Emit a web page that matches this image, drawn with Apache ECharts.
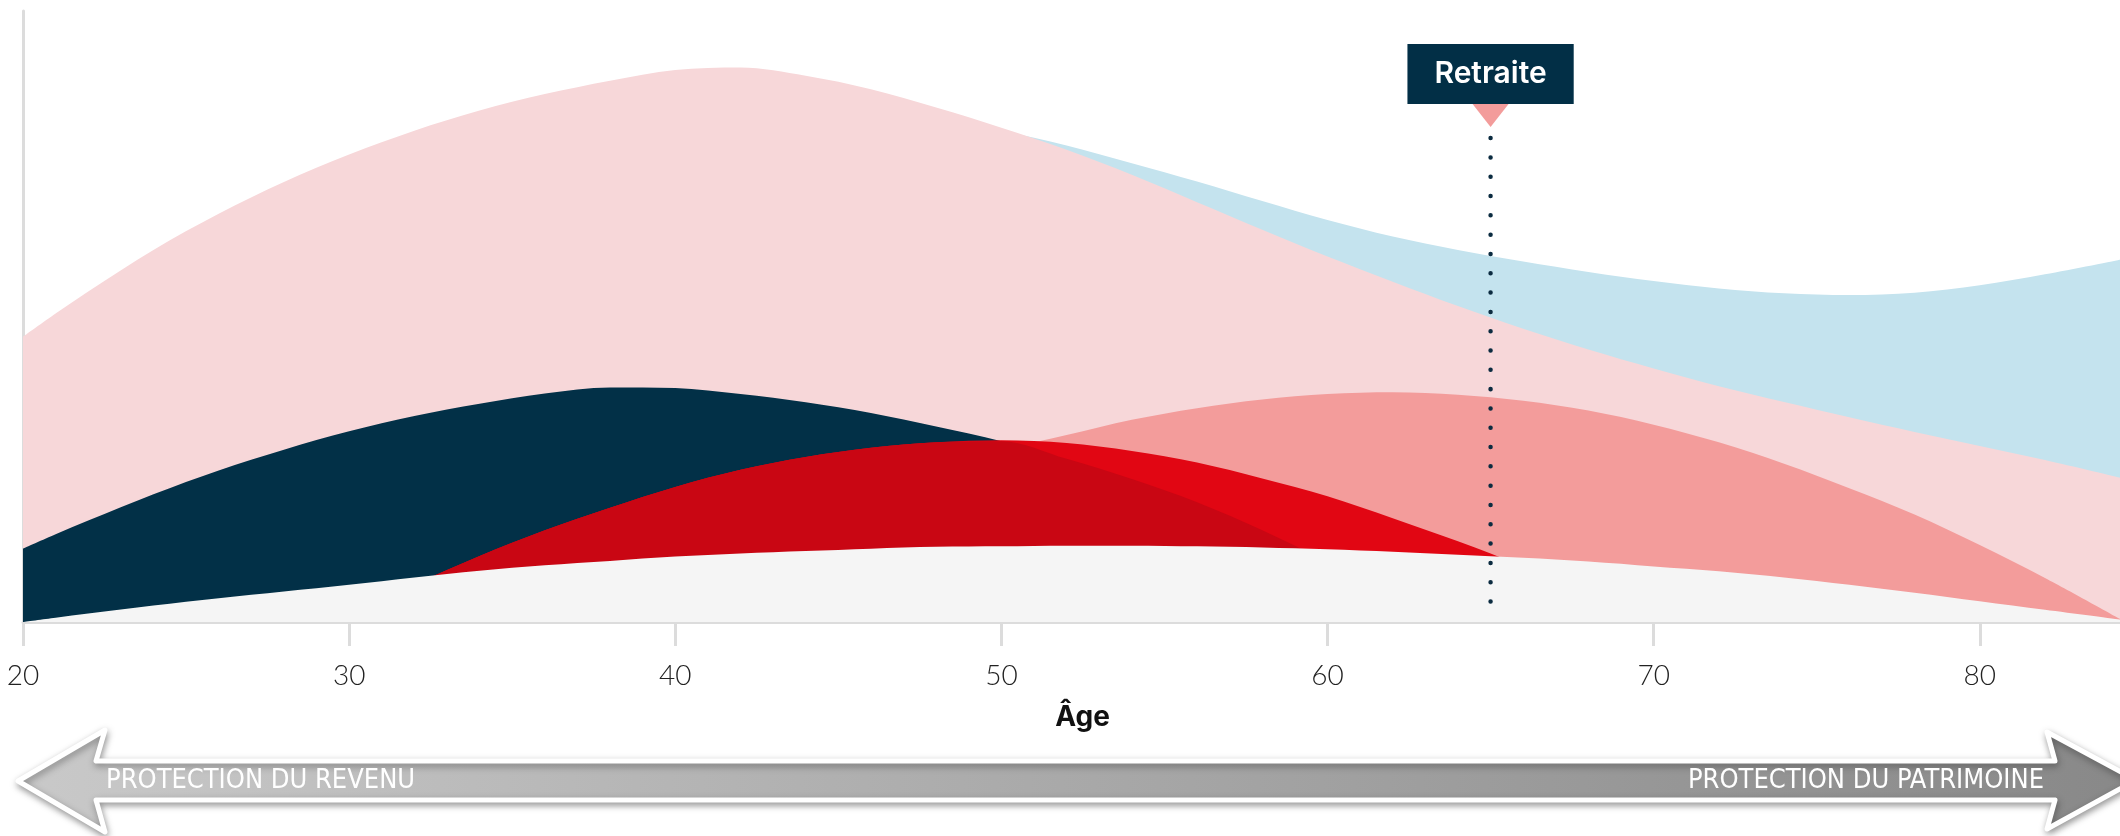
<!DOCTYPE html>
<html>
<head>
<meta charset="utf-8">
<script src="https://cdn.jsdelivr.net/npm/echarts@6/dist/echarts.min.js"></script>
<style>
html,body{margin:0;padding:0;background:#fff;}
#chart{width:2120px;height:836px;}
</style>
</head>
<body>
<div id="chart"></div>
<script>
// ---- data ----
const ages = [20,21,22,24,26,28,30,32,34,36,38,40,42,44,46,48,50,52,54,56,58,60,62,64,66,68,70,72,74,76,78,80,82,84.3];
const xTicks = [20,30,40,50,60,70,80];
const pinkVals   = [46.7,50.5,54.1,60.9,66.8,72.0,76.5,80.4,83.7,86.4,88.6,90.35,90.75,89.4,87.2,84.2,80.9,77.3,73.2,68.7,64.2,59.8,55.7,51.7,48.0,44.6,41.5,38.6,36.0,33.5,31.1,28.8,26.5,23.6];
const blueVals   = [null,null,null,null,null,null,null,null,null,null,null,null,null,85.0,84.2,82.6,80.4,78.0,75.1,72.1,68.9,65.8,63.1,60.9,59.0,57.3,55.8,54.6,53.8,53.5,53.9,55.1,56.9,59.3];
const salmonVals = [null,null,null,null,null,null,null,0,3.4,7.2,10.8,14.2,17.4,20.4,23.2,25.8,28.2,30.6,33.1,35.0,36.4,37.3,37.6,37.2,36.2,34.6,32.3,29.4,25.9,21.9,17.6,12.6,7.2,0.5];
const navyVals   = [12.0,14.35,16.6,20.9,24.8,28.2,31.2,33.7,35.7,37.4,38.4,38.3,37.3,35.95,34.2,32.0,29.6,26.7,23.4,19.6,15.0,9.8,4.0,0,null,null,null,null,null,null,null,null,null,null];
const redVals    = [null,null,null,null,null,null,1.9,6.2,10.8,15.0,18.7,22.1,24.9,27.0,28.5,29.4,29.75,29.3,28.0,26.1,23.5,20.6,17.0,13.2,9.1,4.6,0,null,null,null,null,null,null,null];
const grayVals   = [0,0.7,1.4,2.7,3.9,5.0,6.1,7.3,8.4,9.3,10.0,10.7,11.2,11.6,12.0,12.3,12.4,12.5,12.5,12.4,12.2,11.9,11.5,11.0,10.5,9.9,9.1,8.3,7.3,6.1,4.8,3.4,2.0,0.4];
const retirementAge = 65;
const retirementLabel = 'Retraite';
const retirementLineRange = [79.2, 2.9];
const retirementMarkerValue = 82.9;
const axisName = 'Âge';
const leftArrowText = 'PROTECTION DU REVENU';
const rightArrowText = 'PROTECTION DU PATRIMOINE';

// overlap of the navy and red humps (darker red)
const overlapVals = ages.map((a, i) =>
  (navyVals[i] == null || redVals[i] == null) ? null : Math.min(navyVals[i], redVals[i]));

function pairs(vals) {
  return ages.map((a, i) => [a, vals[i]]).filter(p => p[1] != null);
}

function area(name, vals, color) {
  return {
    name: name, type: 'line', data: pairs(vals), smooth: 0.33,
    showSymbol: false, symbol: 'none',
    lineStyle: { width: 0, color: color },
    areaStyle: { color: color, opacity: 1 },
    silent: true
  };
}

const chart = echarts.init(document.getElementById('chart'), null, { renderer: 'canvas' });

const option = {
  animation: false,
  backgroundColor: '#ffffff',
  grid: { left: 23, right: 0, top: 11, bottom: 214, containLabel: false },
  xAxis: {
    type: 'value', min: 20, max: 84.3, interval: 10,
    name: axisName, nameLocation: 'middle', nameGap: 82,
    nameTextStyle: { fontFamily: 'Inter', fontWeight: 700, fontSize: 28, color: '#111', padding: [0, 0, 0, 22] },
    axisLine: { show: true, lineStyle: { color: '#dcdcdc', width: 3 } },
    axisTick: { show: true, length: 24, lineStyle: { color: '#dcdcdc', width: 3 } },
    axisLabel: {
      show: true, margin: 40, fontFamily: 'Lato', fontWeight: 300, fontSize: 28, color: '#222',
      showMaxLabel: false,
      formatter: function (v) { return xTicks.indexOf(v) >= 0 ? String(v) : ''; }
    },
    splitLine: { show: false }
  },
  yAxis: {
    type: 'value', min: 0, max: 100,
    axisLine: { show: true, onZero: false, lineStyle: { color: '#dcdcdc', width: 3 } },
    axisTick: { show: false }, axisLabel: { show: false }, splitLine: { show: false }
  },
  series: [
    area('Besoin patrimonial', blueVals, '#c4e3ee'),
    area('Besoin global', pinkVals, '#f7d7d9'),
    area('Retraite', salmonVals, '#f39c9b'),
    area('Famille', navyVals, '#023047'),
    area('Revenu', redVals, '#e10613'),
    area('Chevauchement', overlapVals, '#c90613'),
    area('Base', grayVals, '#f5f5f5'),
    {
      name: 'ligne retraite', type: 'line',
      data: [[retirementAge, retirementLineRange[0]], [retirementAge, retirementLineRange[1]]],
      showSymbol: false, symbol: 'none', silent: true,
      lineStyle: { color: '#0b2b40', width: 4.5, type: [0.01, 19.3], cap: 'round' }
    },
    {
      name: 'marqueur retraite', type: 'scatter',
      data: [[retirementAge, retirementMarkerValue]],
      symbol: 'triangle', symbolRotate: 180, symbolSize: [36, 23],
      itemStyle: { color: '#f39c9b', opacity: 1 },
      silent: true,
      label: {
        show: true, position: 'top', distance: 0,
        formatter: retirementLabel,
        color: '#ffffff', fontFamily: 'Inter', fontWeight: 600, fontSize: 30, lineHeight: 36,
        backgroundColor: '#022f46', padding: [12, 27]
      }
    }
  ],
  graphic: [
    {
      type: 'polygon', z: 10,
      shape: { points: [[18,781],[105,730],[96,761],[2055,761],[2047,732],[2136,780],[2047,829],[2055,800],[96,800],[105,832]] },
      style: {
        fill: new echarts.graphic.LinearGradient(0, 0, 1, 0, [
          { offset: 0, color: '#c9c9c9' }, { offset: 1, color: '#888888' }
        ]),
        stroke: '#ffffff', lineWidth: 5, lineJoin: 'round',
        shadowBlur: 7, shadowColor: 'rgba(0,0,0,0.35)', shadowOffsetX: 1, shadowOffsetY: 3
      }
    },
    {
      type: 'text', z: 11, left: 106, top: 767,
      style: { text: leftArrowText, fill: '#ffffff', fontSize: 27, fontWeight: 500, fontFamily: 'Liberation Sans Narrow, DejaVu Sans Condensed, sans-serif' }
    },
    {
      type: 'text', z: 11, right: 2120 - 2044, top: 767,
      style: { text: rightArrowText, fill: '#ffffff', fontSize: 27, fontWeight: 500, fontFamily: 'Liberation Sans Narrow, DejaVu Sans Condensed, sans-serif' }
    }
  ]
};
chart.setOption(option);
</script>
</body>
</html>
